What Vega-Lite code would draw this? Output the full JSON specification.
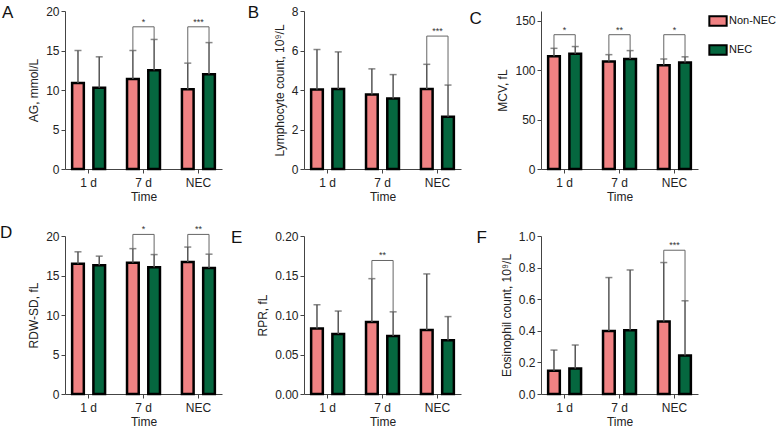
{
  "$schema": "https://vega.github.io/schema/vega-lite/v6.json",
  "background": "white",
  "padding": {"left": 0, "top": 4, "right": 0, "bottom": 2},
  "datasets": {
    "bars": [
      {"panel": "A", "time": "1 d", "group": "Non-NEC", "mean": 10.9, "upper": 15.0},
      {"panel": "A", "time": "1 d", "group": "NEC", "mean": 10.3, "upper": 14.2},
      {"panel": "A", "time": "7 d", "group": "Non-NEC", "mean": 11.4, "upper": 15.0},
      {"panel": "A", "time": "7 d", "group": "NEC", "mean": 12.5, "upper": 16.4},
      {"panel": "A", "time": "NEC", "group": "Non-NEC", "mean": 10.1, "upper": 13.4},
      {"panel": "A", "time": "NEC", "group": "NEC", "mean": 12.0, "upper": 16.0},
      {"panel": "B", "time": "1 d", "group": "Non-NEC", "mean": 4.02, "upper": 6.05},
      {"panel": "B", "time": "1 d", "group": "NEC", "mean": 4.05, "upper": 5.93},
      {"panel": "B", "time": "7 d", "group": "Non-NEC", "mean": 3.77, "upper": 5.07},
      {"panel": "B", "time": "7 d", "group": "NEC", "mean": 3.57, "upper": 4.78},
      {"panel": "B", "time": "NEC", "group": "Non-NEC", "mean": 4.05, "upper": 5.3},
      {"panel": "B", "time": "NEC", "group": "NEC", "mean": 2.65, "upper": 4.25},
      {"panel": "C", "time": "1 d", "group": "Non-NEC", "mean": 114.2, "upper": 122.2},
      {"panel": "C", "time": "1 d", "group": "NEC", "mean": 116.8, "upper": 124.0},
      {"panel": "C", "time": "7 d", "group": "Non-NEC", "mean": 108.9, "upper": 115.8},
      {"panel": "C", "time": "7 d", "group": "NEC", "mean": 111.4, "upper": 119.9},
      {"panel": "C", "time": "NEC", "group": "Non-NEC", "mean": 105.1, "upper": 111.4},
      {"panel": "C", "time": "NEC", "group": "NEC", "mean": 107.9, "upper": 113.6},
      {"panel": "D", "time": "1 d", "group": "Non-NEC", "mean": 16.5, "upper": 18.0},
      {"panel": "D", "time": "1 d", "group": "NEC", "mean": 16.3, "upper": 17.45},
      {"panel": "D", "time": "7 d", "group": "Non-NEC", "mean": 16.6, "upper": 18.4},
      {"panel": "D", "time": "7 d", "group": "NEC", "mean": 16.05, "upper": 17.65},
      {"panel": "D", "time": "NEC", "group": "Non-NEC", "mean": 16.7, "upper": 18.6},
      {"panel": "D", "time": "NEC", "group": "NEC", "mean": 15.95, "upper": 17.7},
      {"panel": "E", "time": "1 d", "group": "Non-NEC", "mean": 0.083, "upper": 0.113},
      {"panel": "E", "time": "1 d", "group": "NEC", "mean": 0.076, "upper": 0.105},
      {"panel": "E", "time": "7 d", "group": "Non-NEC", "mean": 0.091, "upper": 0.146},
      {"panel": "E", "time": "7 d", "group": "NEC", "mean": 0.0735, "upper": 0.104},
      {"panel": "E", "time": "NEC", "group": "Non-NEC", "mean": 0.081, "upper": 0.152},
      {"panel": "E", "time": "NEC", "group": "NEC", "mean": 0.068, "upper": 0.098},
      {"panel": "F", "time": "1 d", "group": "Non-NEC", "mean": 0.147, "upper": 0.278},
      {"panel": "F", "time": "1 d", "group": "NEC", "mean": 0.162, "upper": 0.31},
      {"panel": "F", "time": "7 d", "group": "Non-NEC", "mean": 0.398, "upper": 0.737},
      {"panel": "F", "time": "7 d", "group": "NEC", "mean": 0.404, "upper": 0.785},
      {"panel": "F", "time": "NEC", "group": "Non-NEC", "mean": 0.459, "upper": 0.832},
      {"panel": "F", "time": "NEC", "group": "NEC", "mean": 0.244, "upper": 0.59}
    ],
    "sig": [
      {"panel": "A", "time": "7 d", "group": "Non-NEC", "low": 15.0, "level": 18.0, "stars": "*"},
      {"panel": "A", "time": "7 d", "group": "NEC", "low": 16.4, "level": 18.0, "stars": "*"},
      {"panel": "A", "time": "NEC", "group": "Non-NEC", "low": 13.4, "level": 18.0, "stars": "***"},
      {"panel": "A", "time": "NEC", "group": "NEC", "low": 16.0, "level": 18.0, "stars": "***"},
      {"panel": "B", "time": "NEC", "group": "Non-NEC", "low": 5.3, "level": 6.73, "stars": "***"},
      {"panel": "B", "time": "NEC", "group": "NEC", "low": 4.25, "level": 6.73, "stars": "***"},
      {"panel": "C", "time": "1 d", "group": "Non-NEC", "low": 122.2, "level": 136, "stars": "*"},
      {"panel": "C", "time": "1 d", "group": "NEC", "low": 124.0, "level": 136, "stars": "*"},
      {"panel": "C", "time": "7 d", "group": "Non-NEC", "low": 115.8, "level": 136, "stars": "**"},
      {"panel": "C", "time": "7 d", "group": "NEC", "low": 119.9, "level": 136, "stars": "**"},
      {"panel": "C", "time": "NEC", "group": "Non-NEC", "low": 111.4, "level": 136, "stars": "*"},
      {"panel": "C", "time": "NEC", "group": "NEC", "low": 113.6, "level": 136, "stars": "*"},
      {"panel": "D", "time": "7 d", "group": "Non-NEC", "low": 18.4, "level": 20.2, "stars": "*"},
      {"panel": "D", "time": "7 d", "group": "NEC", "low": 17.65, "level": 20.2, "stars": "*"},
      {"panel": "D", "time": "NEC", "group": "Non-NEC", "low": 18.6, "level": 20.2, "stars": "**"},
      {"panel": "D", "time": "NEC", "group": "NEC", "low": 17.7, "level": 20.2, "stars": "**"},
      {"panel": "E", "time": "7 d", "group": "Non-NEC", "low": 0.146, "level": 0.169, "stars": "**"},
      {"panel": "E", "time": "7 d", "group": "NEC", "low": 0.104, "level": 0.169, "stars": "**"},
      {"panel": "F", "time": "NEC", "group": "Non-NEC", "low": 0.832, "level": 0.91, "stars": "***"},
      {"panel": "F", "time": "NEC", "group": "NEC", "low": 0.59, "level": 0.91, "stars": "***"}
    ]
  },
  "config": {
    "font": "Liberation Sans",
    "view": {"stroke": null},
    "axis": {"grid": false, "domainColor": "#444", "tickColor": "#444", "labelColor": "#222", "titleColor": "#222", "labelFontSize": 12, "titleFontSize": 12, "titleFontWeight": "normal", "labelFont": "Liberation Sans", "titleFont": "Liberation Sans", "tickSize": 4, "labelOverlap": false},
    "axisX": {"labelAngle": 0, "labelPadding": 4, "titlePadding": 3},
    "axisY": {"titlePadding": 5},
    "title": {"fontSize": 17, "fontWeight": "normal", "font": "Liberation Sans", "color": "#111"},
    "legend": {"orient": "right", "offset": 10, "symbolType": "M-1,-0.55H1V0.55H-1Z", "symbolSize": 300, "symbolStrokeColor": "black", "symbolStrokeWidth": 2, "labelFontSize": 11, "labelFont": "Liberation Sans", "labelColor": "#111", "rowPadding": 10, "labelOffset": 1, "symbolOpacity": 1, "padding": 0}
  },
  "columns": 3,
  "spacing": {"row": 22, "column": 8},
  "concat": [
    {
      "width": 157, "height": 158,
      "title": {"text": "A", "orient": "left", "anchor": "end", "angle": 0, "baseline": "top", "offset": 3},
      "encoding": {"x": {"field": "time", "type": "nominal", "sort": ["1 d", "7 d", "NEC"], "scale": {"paddingInner": 0.4, "paddingOuter": 0.13}, "axis": {"title": "Time"}}},
      "layer": [
        {"data": {"name": "bars"}, "transform": [{"filter": "datum.panel === 'A'"}], "mark": {"type": "bar", "stroke": "black", "strokeWidth": 2.5},
         "encoding": {"xOffset": {"field": "group", "sort": ["Non-NEC", "NEC"], "scale": {"paddingInner": 0.45}},
           "y": {"field": "mean", "type": "quantitative", "scale": {"domain": [0, 20]}, "axis": {"title": "AG, mmol/L", "values": [0, 5, 10, 15, 20]}},
           "fill": {"field": "group", "type": "nominal", "scale": {"domain": ["Non-NEC", "NEC"], "range": ["#F08283", "#05673F"]}, "title": null}}},
        {"data": {"name": "bars"}, "transform": [{"filter": "datum.panel === 'A'"}], "mark": {"type": "rule", "color": "#555", "strokeWidth": 1.5},
         "encoding": {"xOffset": {"field": "group", "sort": ["Non-NEC", "NEC"]}, "y": {"field": "mean", "type": "quantitative", "axis": {"title": "AG, mmol/L", "values": [0, 5, 10, 15, 20]}}, "y2": {"field": "upper"}}},
        {"data": {"name": "bars"}, "transform": [{"filter": "datum.panel === 'A'"}], "mark": {"type": "tick", "color": "#555", "thickness": 1.5, "size": 7, "orient": "horizontal"},
         "encoding": {"xOffset": {"field": "group", "sort": ["Non-NEC", "NEC"]}, "y": {"field": "upper", "type": "quantitative", "axis": {"title": "AG, mmol/L", "values": [0, 5, 10, 15, 20]}}}},
        {"data": {"name": "sig"}, "transform": [{"filter": "datum.panel === 'A'"}], "mark": {"type": "rule", "color": "#666", "strokeWidth": 1},
         "encoding": {"xOffset": {"field": "group", "sort": ["Non-NEC", "NEC"]}, "y": {"field": "low", "type": "quantitative", "axis": {"title": "AG, mmol/L", "values": [0, 5, 10, 15, 20]}}, "y2": {"field": "level"}}},
        {"data": {"name": "sig"}, "transform": [{"filter": "datum.panel === 'A'"}], "mark": {"type": "line", "color": "#666", "strokeWidth": 1},
         "encoding": {"xOffset": {"field": "group", "sort": ["Non-NEC", "NEC"]}, "y": {"field": "level", "type": "quantitative", "axis": {"title": "AG, mmol/L", "values": [0, 5, 10, 15, 20]}}, "detail": {"field": "time"}}},
        {"data": {"name": "sig"}, "transform": [{"filter": "datum.panel === 'A' && datum.group === 'NEC'"}], "mark": {"type": "text", "fontSize": 9, "dy": -5, "color": "#333"},
         "encoding": {"y": {"field": "level", "type": "quantitative", "axis": {"title": "AG, mmol/L", "values": [0, 5, 10, 15, 20]}}, "text": {"field": "stars"}}}
      ]
    },
    {
      "width": 157, "height": 158,
      "title": {"text": "B", "orient": "left", "anchor": "end", "angle": 0, "baseline": "top", "offset": 3},
      "encoding": {"x": {"field": "time", "type": "nominal", "sort": ["1 d", "7 d", "NEC"], "scale": {"paddingInner": 0.4, "paddingOuter": 0.13}, "axis": {"title": "Time"}}},
      "layer": [
        {"data": {"name": "bars"}, "transform": [{"filter": "datum.panel === 'B'"}], "mark": {"type": "bar", "stroke": "black", "strokeWidth": 2.5},
         "encoding": {"xOffset": {"field": "group", "sort": ["Non-NEC", "NEC"], "scale": {"paddingInner": 0.45}},
           "y": {"field": "mean", "type": "quantitative", "scale": {"domain": [0, 8]}, "axis": {"title": "Lymphocyte count, 10⁹/L", "values": [0, 2, 4, 6, 8]}},
           "fill": {"field": "group", "type": "nominal", "scale": {"domain": ["Non-NEC", "NEC"], "range": ["#F08283", "#05673F"]}, "title": null}}},
        {"data": {"name": "bars"}, "transform": [{"filter": "datum.panel === 'B'"}], "mark": {"type": "rule", "color": "#555", "strokeWidth": 1.5},
         "encoding": {"xOffset": {"field": "group", "sort": ["Non-NEC", "NEC"]}, "y": {"field": "mean", "type": "quantitative", "axis": {"title": "Lymphocyte count, 10⁹/L", "values": [0, 2, 4, 6, 8]}}, "y2": {"field": "upper"}}},
        {"data": {"name": "bars"}, "transform": [{"filter": "datum.panel === 'B'"}], "mark": {"type": "tick", "color": "#555", "thickness": 1.5, "size": 7, "orient": "horizontal"},
         "encoding": {"xOffset": {"field": "group", "sort": ["Non-NEC", "NEC"]}, "y": {"field": "upper", "type": "quantitative", "axis": {"title": "Lymphocyte count, 10⁹/L", "values": [0, 2, 4, 6, 8]}}}},
        {"data": {"name": "sig"}, "transform": [{"filter": "datum.panel === 'B'"}], "mark": {"type": "rule", "color": "#666", "strokeWidth": 1},
         "encoding": {"xOffset": {"field": "group", "sort": ["Non-NEC", "NEC"]}, "y": {"field": "low", "type": "quantitative", "axis": {"title": "Lymphocyte count, 10⁹/L", "values": [0, 2, 4, 6, 8]}}, "y2": {"field": "level"}}},
        {"data": {"name": "sig"}, "transform": [{"filter": "datum.panel === 'B'"}], "mark": {"type": "line", "color": "#666", "strokeWidth": 1},
         "encoding": {"xOffset": {"field": "group", "sort": ["Non-NEC", "NEC"]}, "y": {"field": "level", "type": "quantitative", "axis": {"title": "Lymphocyte count, 10⁹/L", "values": [0, 2, 4, 6, 8]}}, "detail": {"field": "time"}}},
        {"data": {"name": "sig"}, "transform": [{"filter": "datum.panel === 'B' && datum.group === 'NEC'"}], "mark": {"type": "text", "fontSize": 9, "dy": -5, "color": "#333"},
         "encoding": {"y": {"field": "level", "type": "quantitative", "axis": {"title": "Lymphocyte count, 10⁹/L", "values": [0, 2, 4, 6, 8]}}, "text": {"field": "stars"}}}
      ]
    },
    {
      "width": 157, "height": 158,
      "title": {"text": "C", "orient": "left", "anchor": "end", "angle": 0, "baseline": "top", "offset": 3},
      "encoding": {"x": {"field": "time", "type": "nominal", "sort": ["1 d", "7 d", "NEC"], "scale": {"paddingInner": 0.4, "paddingOuter": 0.13}, "axis": {"title": "Time"}}},
      "layer": [
        {"data": {"name": "bars"}, "transform": [{"filter": "datum.panel === 'C'"}], "mark": {"type": "bar", "stroke": "black", "strokeWidth": 2.5},
         "encoding": {"xOffset": {"field": "group", "sort": ["Non-NEC", "NEC"], "scale": {"paddingInner": 0.45}},
           "y": {"field": "mean", "type": "quantitative", "scale": {"domain": [0, 150]}, "axis": {"title": "MCV, fL", "values": [0, 50, 100, 150]}},
           "fill": {"field": "group", "type": "nominal", "scale": {"domain": ["Non-NEC", "NEC"], "range": ["#F08283", "#05673F"]}, "title": null}}},
        {"data": {"name": "bars"}, "transform": [{"filter": "datum.panel === 'C'"}], "mark": {"type": "rule", "color": "#555", "strokeWidth": 1.5},
         "encoding": {"xOffset": {"field": "group", "sort": ["Non-NEC", "NEC"]}, "y": {"field": "mean", "type": "quantitative", "axis": {"title": "MCV, fL", "values": [0, 50, 100, 150]}}, "y2": {"field": "upper"}}},
        {"data": {"name": "bars"}, "transform": [{"filter": "datum.panel === 'C'"}], "mark": {"type": "tick", "color": "#555", "thickness": 1.5, "size": 7, "orient": "horizontal"},
         "encoding": {"xOffset": {"field": "group", "sort": ["Non-NEC", "NEC"]}, "y": {"field": "upper", "type": "quantitative", "axis": {"title": "MCV, fL", "values": [0, 50, 100, 150]}}}},
        {"data": {"name": "sig"}, "transform": [{"filter": "datum.panel === 'C'"}], "mark": {"type": "rule", "color": "#666", "strokeWidth": 1},
         "encoding": {"xOffset": {"field": "group", "sort": ["Non-NEC", "NEC"]}, "y": {"field": "low", "type": "quantitative", "axis": {"title": "MCV, fL", "values": [0, 50, 100, 150]}}, "y2": {"field": "level"}}},
        {"data": {"name": "sig"}, "transform": [{"filter": "datum.panel === 'C'"}], "mark": {"type": "line", "color": "#666", "strokeWidth": 1},
         "encoding": {"xOffset": {"field": "group", "sort": ["Non-NEC", "NEC"]}, "y": {"field": "level", "type": "quantitative", "axis": {"title": "MCV, fL", "values": [0, 50, 100, 150]}}, "detail": {"field": "time"}}},
        {"data": {"name": "sig"}, "transform": [{"filter": "datum.panel === 'C' && datum.group === 'NEC'"}], "mark": {"type": "text", "fontSize": 9, "dy": -5, "color": "#333"},
         "encoding": {"y": {"field": "level", "type": "quantitative", "axis": {"title": "MCV, fL", "values": [0, 50, 100, 150]}}, "text": {"field": "stars"}}}
      ]
    },
    {
      "width": 157, "height": 158,
      "title": {"text": "D", "orient": "left", "anchor": "end", "angle": 0, "baseline": "top", "offset": 3},
      "encoding": {"x": {"field": "time", "type": "nominal", "sort": ["1 d", "7 d", "NEC"], "scale": {"paddingInner": 0.4, "paddingOuter": 0.13}, "axis": {"title": "Time"}}},
      "layer": [
        {"data": {"name": "bars"}, "transform": [{"filter": "datum.panel === 'D'"}], "mark": {"type": "bar", "stroke": "black", "strokeWidth": 2.5},
         "encoding": {"xOffset": {"field": "group", "sort": ["Non-NEC", "NEC"], "scale": {"paddingInner": 0.45}},
           "y": {"field": "mean", "type": "quantitative", "scale": {"domain": [0, 20]}, "axis": {"title": "RDW-SD, fL", "values": [0, 5, 10, 15, 20]}},
           "fill": {"field": "group", "type": "nominal", "scale": {"domain": ["Non-NEC", "NEC"], "range": ["#F08283", "#05673F"]}, "title": null}}},
        {"data": {"name": "bars"}, "transform": [{"filter": "datum.panel === 'D'"}], "mark": {"type": "rule", "color": "#555", "strokeWidth": 1.5},
         "encoding": {"xOffset": {"field": "group", "sort": ["Non-NEC", "NEC"]}, "y": {"field": "mean", "type": "quantitative", "axis": {"title": "RDW-SD, fL", "values": [0, 5, 10, 15, 20]}}, "y2": {"field": "upper"}}},
        {"data": {"name": "bars"}, "transform": [{"filter": "datum.panel === 'D'"}], "mark": {"type": "tick", "color": "#555", "thickness": 1.5, "size": 7, "orient": "horizontal"},
         "encoding": {"xOffset": {"field": "group", "sort": ["Non-NEC", "NEC"]}, "y": {"field": "upper", "type": "quantitative", "axis": {"title": "RDW-SD, fL", "values": [0, 5, 10, 15, 20]}}}},
        {"data": {"name": "sig"}, "transform": [{"filter": "datum.panel === 'D'"}], "mark": {"type": "rule", "color": "#666", "strokeWidth": 1},
         "encoding": {"xOffset": {"field": "group", "sort": ["Non-NEC", "NEC"]}, "y": {"field": "low", "type": "quantitative", "axis": {"title": "RDW-SD, fL", "values": [0, 5, 10, 15, 20]}}, "y2": {"field": "level"}}},
        {"data": {"name": "sig"}, "transform": [{"filter": "datum.panel === 'D'"}], "mark": {"type": "line", "color": "#666", "strokeWidth": 1},
         "encoding": {"xOffset": {"field": "group", "sort": ["Non-NEC", "NEC"]}, "y": {"field": "level", "type": "quantitative", "axis": {"title": "RDW-SD, fL", "values": [0, 5, 10, 15, 20]}}, "detail": {"field": "time"}}},
        {"data": {"name": "sig"}, "transform": [{"filter": "datum.panel === 'D' && datum.group === 'NEC'"}], "mark": {"type": "text", "fontSize": 9, "dy": -5, "color": "#333"},
         "encoding": {"y": {"field": "level", "type": "quantitative", "axis": {"title": "RDW-SD, fL", "values": [0, 5, 10, 15, 20]}}, "text": {"field": "stars"}}}
      ]
    },
    {
      "width": 157, "height": 158,
      "title": {"text": "E", "orient": "left", "anchor": "end", "angle": 0, "baseline": "top", "offset": 3},
      "encoding": {"x": {"field": "time", "type": "nominal", "sort": ["1 d", "7 d", "NEC"], "scale": {"paddingInner": 0.4, "paddingOuter": 0.13}, "axis": {"title": "Time"}}},
      "layer": [
        {"data": {"name": "bars"}, "transform": [{"filter": "datum.panel === 'E'"}], "mark": {"type": "bar", "stroke": "black", "strokeWidth": 2.5},
         "encoding": {"xOffset": {"field": "group", "sort": ["Non-NEC", "NEC"], "scale": {"paddingInner": 0.45}},
           "y": {"field": "mean", "type": "quantitative", "scale": {"domain": [0, 0.2]}, "axis": {"title": "RPR, fL", "values": [0, 0.05, 0.1, 0.15, 0.2], "format": ".2f"}},
           "fill": {"field": "group", "type": "nominal", "scale": {"domain": ["Non-NEC", "NEC"], "range": ["#F08283", "#05673F"]}, "title": null}}},
        {"data": {"name": "bars"}, "transform": [{"filter": "datum.panel === 'E'"}], "mark": {"type": "rule", "color": "#555", "strokeWidth": 1.5},
         "encoding": {"xOffset": {"field": "group", "sort": ["Non-NEC", "NEC"]}, "y": {"field": "mean", "type": "quantitative", "axis": {"title": "RPR, fL", "values": [0, 0.05, 0.1, 0.15, 0.2], "format": ".2f"}}, "y2": {"field": "upper"}}},
        {"data": {"name": "bars"}, "transform": [{"filter": "datum.panel === 'E'"}], "mark": {"type": "tick", "color": "#555", "thickness": 1.5, "size": 7, "orient": "horizontal"},
         "encoding": {"xOffset": {"field": "group", "sort": ["Non-NEC", "NEC"]}, "y": {"field": "upper", "type": "quantitative", "axis": {"title": "RPR, fL", "values": [0, 0.05, 0.1, 0.15, 0.2], "format": ".2f"}}}},
        {"data": {"name": "sig"}, "transform": [{"filter": "datum.panel === 'E'"}], "mark": {"type": "rule", "color": "#666", "strokeWidth": 1},
         "encoding": {"xOffset": {"field": "group", "sort": ["Non-NEC", "NEC"]}, "y": {"field": "low", "type": "quantitative", "axis": {"title": "RPR, fL", "values": [0, 0.05, 0.1, 0.15, 0.2], "format": ".2f"}}, "y2": {"field": "level"}}},
        {"data": {"name": "sig"}, "transform": [{"filter": "datum.panel === 'E'"}], "mark": {"type": "line", "color": "#666", "strokeWidth": 1},
         "encoding": {"xOffset": {"field": "group", "sort": ["Non-NEC", "NEC"]}, "y": {"field": "level", "type": "quantitative", "axis": {"title": "RPR, fL", "values": [0, 0.05, 0.1, 0.15, 0.2], "format": ".2f"}}, "detail": {"field": "time"}}},
        {"data": {"name": "sig"}, "transform": [{"filter": "datum.panel === 'E' && datum.group === 'NEC'"}], "mark": {"type": "text", "fontSize": 9, "dy": -5, "color": "#333"},
         "encoding": {"y": {"field": "level", "type": "quantitative", "axis": {"title": "RPR, fL", "values": [0, 0.05, 0.1, 0.15, 0.2], "format": ".2f"}}, "text": {"field": "stars"}}}
      ]
    },
    {
      "width": 157, "height": 158,
      "title": {"text": "F", "orient": "left", "anchor": "end", "angle": 0, "baseline": "top", "offset": 3},
      "encoding": {"x": {"field": "time", "type": "nominal", "sort": ["1 d", "7 d", "NEC"], "scale": {"paddingInner": 0.4, "paddingOuter": 0.13}, "axis": {"title": "Time"}}},
      "layer": [
        {"data": {"name": "bars"}, "transform": [{"filter": "datum.panel === 'F'"}], "mark": {"type": "bar", "stroke": "black", "strokeWidth": 2.5},
         "encoding": {"xOffset": {"field": "group", "sort": ["Non-NEC", "NEC"], "scale": {"paddingInner": 0.45}},
           "y": {"field": "mean", "type": "quantitative", "scale": {"domain": [0, 1]}, "axis": {"title": "Eosinophil count, 10⁹/L", "values": [0, 0.2, 0.4, 0.6, 0.8, 1.0], "format": ".1f"}},
           "fill": {"field": "group", "type": "nominal", "scale": {"domain": ["Non-NEC", "NEC"], "range": ["#F08283", "#05673F"]}, "title": null}}},
        {"data": {"name": "bars"}, "transform": [{"filter": "datum.panel === 'F'"}], "mark": {"type": "rule", "color": "#555", "strokeWidth": 1.5},
         "encoding": {"xOffset": {"field": "group", "sort": ["Non-NEC", "NEC"]}, "y": {"field": "mean", "type": "quantitative", "axis": {"title": "Eosinophil count, 10⁹/L", "values": [0, 0.2, 0.4, 0.6, 0.8, 1.0], "format": ".1f"}}, "y2": {"field": "upper"}}},
        {"data": {"name": "bars"}, "transform": [{"filter": "datum.panel === 'F'"}], "mark": {"type": "tick", "color": "#555", "thickness": 1.5, "size": 7, "orient": "horizontal"},
         "encoding": {"xOffset": {"field": "group", "sort": ["Non-NEC", "NEC"]}, "y": {"field": "upper", "type": "quantitative", "axis": {"title": "Eosinophil count, 10⁹/L", "values": [0, 0.2, 0.4, 0.6, 0.8, 1.0], "format": ".1f"}}}},
        {"data": {"name": "sig"}, "transform": [{"filter": "datum.panel === 'F'"}], "mark": {"type": "rule", "color": "#666", "strokeWidth": 1},
         "encoding": {"xOffset": {"field": "group", "sort": ["Non-NEC", "NEC"]}, "y": {"field": "low", "type": "quantitative", "axis": {"title": "Eosinophil count, 10⁹/L", "values": [0, 0.2, 0.4, 0.6, 0.8, 1.0], "format": ".1f"}}, "y2": {"field": "level"}}},
        {"data": {"name": "sig"}, "transform": [{"filter": "datum.panel === 'F'"}], "mark": {"type": "line", "color": "#666", "strokeWidth": 1},
         "encoding": {"xOffset": {"field": "group", "sort": ["Non-NEC", "NEC"]}, "y": {"field": "level", "type": "quantitative", "axis": {"title": "Eosinophil count, 10⁹/L", "values": [0, 0.2, 0.4, 0.6, 0.8, 1.0], "format": ".1f"}}, "detail": {"field": "time"}}},
        {"data": {"name": "sig"}, "transform": [{"filter": "datum.panel === 'F' && datum.group === 'NEC'"}], "mark": {"type": "text", "fontSize": 9, "dy": -5, "color": "#333"},
         "encoding": {"y": {"field": "level", "type": "quantitative", "axis": {"title": "Eosinophil count, 10⁹/L", "values": [0, 0.2, 0.4, 0.6, 0.8, 1.0], "format": ".1f"}}, "text": {"field": "stars"}}}
      ]
    }
  ]
}
